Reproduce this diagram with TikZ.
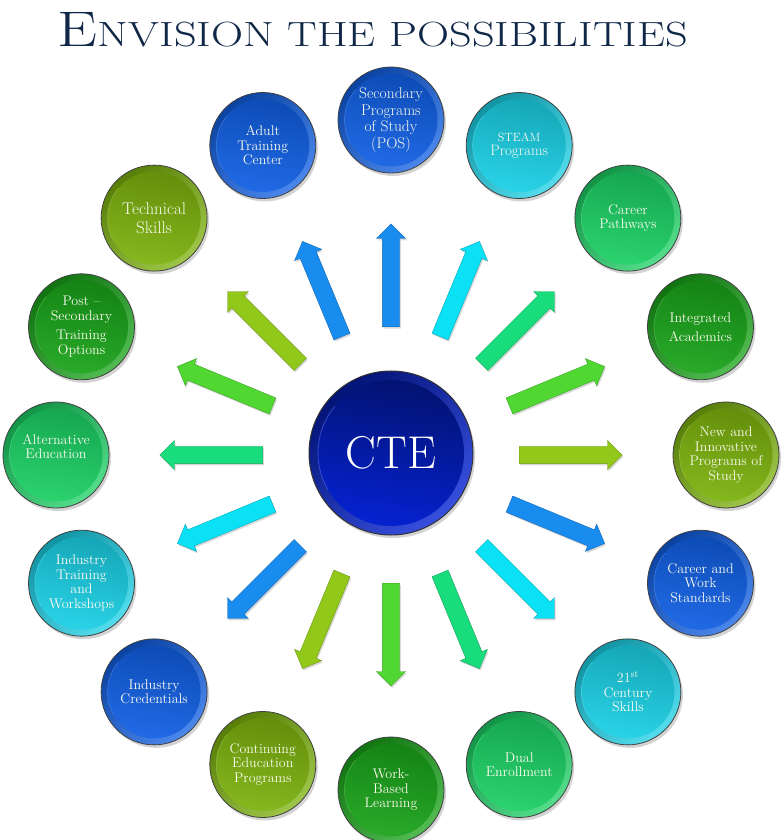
\documentclass[tikz,border=0pt]{standalone}
\usepackage{fontspec}
\usepackage{graphicx}
\usetikzlibrary{shapes.arrows,shadows}
\definecolor{titleC}{RGB}{16,40,72}
\definecolor{txt}{RGB}{250,250,238}
% circle colours
\definecolor{cB}{RGB}{15,95,230}
\definecolor{cC}{RGB}{25,210,232}
\definecolor{cS}{RGB}{26,210,100}
\definecolor{cG}{RGB}{24,165,24}
\definecolor{cY}{RGB}{125,180,12}
\definecolor{cteC}{RGB}{5,35,215}
% arrow colours
\definecolor{aB}{RGB}{25,140,240}
\definecolor{aC}{RGB}{10,225,245}
\definecolor{aS}{RGB}{25,220,125}
\definecolor{aG}{RGB}{80,215,50}
\definecolor{aY}{RGB}{145,200,25}
\tikzset{
  btn/.style={circle, minimum size=106pt, inner sep=0pt, align=center, text=txt,
    font=\fontsize{14}{14.5}\selectfont,
    draw=black!75, line width=0.8pt,
    top color=#1!70!black, bottom color=#1!75!white, shading angle=40,
    drop shadow={shadow xshift=2pt, shadow yshift=-3pt, opacity=.35},
    path picture={
      \shade[top color=#1!78!black, bottom color=#1!92!white, shading angle=-10]
        (path picture bounding box.center) circle (46.5pt);
      \draw[#1!75!white, line width=.6pt, opacity=.7] (path picture bounding box.center) ++(-150:46.5pt) arc[start angle=-150, end angle=-220, radius=46.5pt];
    }},
  ctebtn/.style={circle, minimum size=164pt, inner sep=0pt, text=white,
    font=\fontsize{46}{46}\selectfont,
    draw=black!80, line width=1pt,
    top color=cteC!55!black, bottom color=cteC!80!white, shading angle=40,
    drop shadow={shadow xshift=2pt, shadow yshift=-3pt, opacity=.35},
    path picture={
      \shade[top color=cteC!50!black, bottom color=cteC, shading angle=-10]
        (path picture bounding box.center) circle (73pt);
      \draw[cteC!70!white, line width=.7pt, opacity=.7] (path picture bounding box.center) ++(-150:73pt) arc[start angle=-150, end angle=-220, radius=73pt];
    }},
  blockarrow/.style={single arrow, fill=#1, draw=#1!75!black, line width=.4pt,
    text height=17pt, text depth=0pt, inner sep=0pt,
    minimum height=103pt, single arrow head extend=6pt, single arrow head indent=0pt,
    drop shadow={shadow xshift=1.2pt, shadow yshift=-1.8pt, opacity=.3}},
}
\begin{document}
\begin{tikzpicture}[x=1pt,y=1pt]
\useasboundingbox (-391,-385) rectangle (390,455);
% title
\node[anchor=base, text=titleC, inner sep=0pt] (title) at (-18,408)
  {\scalebox{1.27}[1]{\fontsize{50}{50}\selectfont E\fontsize{35}{35}\selectfont NVISION THE POSSIBILITIES}};
% arrows
\foreach \i/\col in {0/aB,1/aC,2/aS,3/aG,4/aY,5/aB,6/aC,7/aS,8/aG,9/aY,10/aB,11/aC,12/aS,13/aG,14/aY,15/aB}{
  \pgfmathsetmacro{\ang}{90-22.5*\i}
  \node[blockarrow=\col, rotate=\ang, anchor=tail] (arr\i) at (\ang:128) {};
}
% centre
\node[ctebtn] (cte) at (0,2) {CTE};
% outer circles
\node[btn=cB, font=\fontsize{15.5}{16.5}\selectfont] (c1) at (90:335) {Secondary\\Programs\\of Study\\(POS)};
\node[btn=cC] (c2) at (67.5:335) {{\fontsize{12}{14}\selectfont STEAM}\\{\fontsize{15}{16}\selectfont Programs}};
\node[btn=cS] (c3) at (45:335) {Career\\Pathways};
\node[btn=cG, font=\fontsize{14}{19}\selectfont] (c4) at (22.5:335) {Integrated\\Academics};
\node[btn=cY] (c5) at (0:335) {New and\\Innovative\\Programs of\\Study};
\node[btn=cB] (c6) at (-22.5:335) {Career and\\Work\\Standards};
\node[btn=cC] (c7) at (-45:335) {21\textsuperscript{st}\\Century\\Skills};
\node[btn=cS] (c8) at (-67.5:335) {Dual\\Enrollment};
\node[btn=cG] (c9) at (-90:335) {Work-\\Based\\Learning};
\node[btn=cY] (c10) at (-112.5:335) {Continuing\\Education\\Programs};
\node[btn=cB] (c11) at (-135:335) {Industry\\Credentials};
\node[btn=cC] (c12) at (-157.5:335) {Industry\\Training\\and\\Workshops};
\node[btn=cS] (c13) at (180:335) {Alternative\\Education\\[2pt]};
\node[btn=cG] (c14) at (157.5:335) {Post --\\Secondary\\[5pt]Training\\Options};
\node[btn=cY, font=\fontsize{17}{19}\selectfont] (c15) at (135:335) {Technical\\Skills};
\node[btn=cB] (c16) at (112.5:335) {Adult\\Training\\Center};
\end{tikzpicture}
\end{document}
